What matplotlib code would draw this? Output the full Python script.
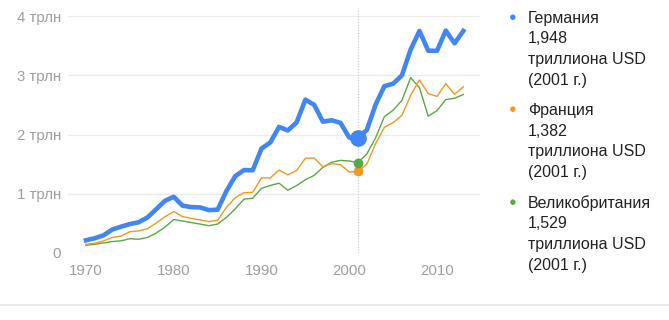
import matplotlib.pyplot as plt

# GDP, trillions USD
years = list(range(1970, 2014))
germany = [0.215, 0.249, 0.299, 0.398, 0.445, 0.489, 0.519, 0.600, 0.740, 0.882,
           0.950, 0.800, 0.776, 0.770, 0.725, 0.732, 1.046, 1.297, 1.401, 1.398,
           1.765, 1.868, 2.131, 2.071, 2.206, 2.591, 2.504, 2.219, 2.243, 2.199,
           1.950, 1.948, 2.079, 2.506, 2.819, 2.861, 3.002, 3.440, 3.752, 3.418,
           3.417, 3.758, 3.544, 3.752]
france = [0.148, 0.165, 0.204, 0.264, 0.286, 0.360, 0.373, 0.410, 0.506, 0.613,
          0.701, 0.615, 0.584, 0.559, 0.530, 0.553, 0.771, 0.934, 1.019, 1.025,
          1.269, 1.269, 1.401, 1.323, 1.394, 1.601, 1.606, 1.455, 1.511, 1.493,
          1.368, 1.382, 1.500, 1.848, 2.124, 2.204, 2.325, 2.663, 2.923, 2.694,
          2.647, 2.862, 2.681, 2.808]
uk = [0.131, 0.148, 0.170, 0.193, 0.206, 0.242, 0.232, 0.263, 0.336, 0.438,
      0.565, 0.540, 0.515, 0.489, 0.461, 0.489, 0.601, 0.745, 0.910, 0.926,
      1.093, 1.142, 1.179, 1.061, 1.140, 1.238, 1.311, 1.449, 1.534, 1.565,
      1.555, 1.529, 1.672, 1.945, 2.303, 2.413, 2.578, 2.963, 2.793, 2.311,
      2.407, 2.592, 2.615, 2.678]

names = ['Германия', 'Франция', 'Великобритания']
values_2001 = ['1,948', '1,382', '1,529']
highlight_year = 2001
y_ticks = [0, 1, 2, 3, 4]
y_tick_labels = ['0', '1 трлн', '2 трлн', '3 трлн', '4 трлн']
x_ticks = [1970, 1980, 1990, 2000, 2010]

colors = ['#4285f4', '#f5961d', '#5aa745']

plt.rcParams['font.family'] = ['Liberation Sans', 'DejaVu Sans']

fig = plt.figure(figsize=(6.69, 3.2), dpi=100)
ax = fig.add_axes([68 / 669, 67 / 320, 412 / 669, 245 / 320])

ax.plot(years, uk, color=colors[2], linewidth=1.0, zorder=3)
ax.plot(years, france, color=colors[1], linewidth=1.0, zorder=3)
ax.plot(years, germany, color=colors[0], linewidth=3.3, zorder=4,
        solid_joinstyle='round')

i = years.index(highlight_year)
ax.axvline(highlight_year, color='#c8c8c8', linewidth=0.8, linestyle=(0, (1, 1.5)), zorder=2)
ax.plot(highlight_year, germany[i], 'o', color=colors[0], markersize=11, zorder=5)
ax.plot(highlight_year, france[i], 'o', color=colors[1], markersize=6, zorder=5)
ax.plot(highlight_year, uk[i], 'o', color=colors[2], markersize=6, zorder=5)

ax.set_xlim(1967.95, 2014.9)
ax.set_ylim(0, 4.14)
ax.set_yticks(y_ticks)
ax.set_yticklabels(y_tick_labels)
ax.set_xticks(x_ticks)
ax.grid(axis='y', color='#ebebeb', linewidth=1.0)
ax.grid(axis='x', visible=False)
ax.set_axisbelow(True)
for s in ax.spines.values():
    s.set_visible(False)
ax.tick_params(length=0, colors='#9e9e9e', labelsize=10.8)
ax.tick_params(axis='y', pad=5)
ax.tick_params(axis='x', pad=8)

# legend on the right
for k in range(3):
    y0 = 302 - k * 92.5
    fig.text(513 / 669, y0 / 320, '●', color=colors[k], fontsize=9,
             ha='center', va='center')
    lines = [names[k], values_2001[k], 'триллиона USD', '(2001 г.)']
    for j, t in enumerate(lines):
        fig.text(528 / 669, (y0 - j * 20.7) / 320, t, color='#222222',
                 fontsize=11.5, ha='left', va='center')

# bottom separator
fig.add_artist(plt.Line2D([0, 1], [15 / 320, 15 / 320], color='#e6e6e6', linewidth=1.2))

plt.savefig('out.png', dpi=100)
